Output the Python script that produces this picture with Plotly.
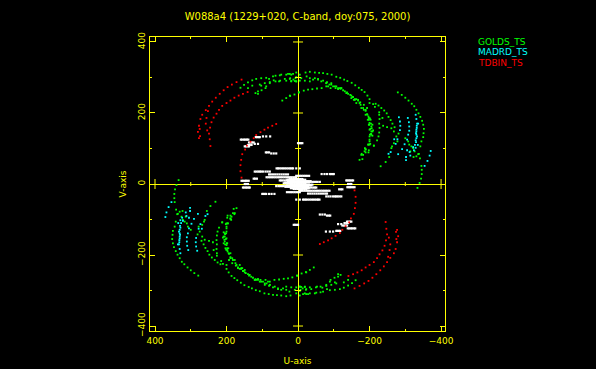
import plotly.graph_objects as go

# (u, v) samples in wavelengths x 1e-3; the conjugate
# half-plane is plotted as (-u, -v), as every baseline gives both.
TITLE = "W088a4 (1229+020, C-band, doy:075, 2000)"
x_major = [400, 200, 0, -200, -400]
y_major = [400, 200, 0, -200, -400]
x_minor = [300, 100, -100, -300]
y_minor = [300, 100, -100, -300]

red_u = [158,172,185,197,208,219,230,240,249,258,268,273,277,280,277,
         141,154,166,178,189,200,212,221,228,236,242,246,249,247,245,
         252,256,258,254,275,274,
         61,72,84,94,105,117,124,133,143,148,156,159,161,161,158]
red_v = [294,287,280,273,264,254,243,232,220,208,195,183,164,147,129,
         259,254,249,243,235,228,220,209,198,187,174,159,142,126,107,
         205,186,170,151,155,135,
         169,164,159,153,146,138,129,119,108,97,84,68,53,36,18]

cyan_u = [-282,-285,-286,-285,-278,-269,-273,-259,-253,-280,-291,
          -307,-310,-311,-311,-308,-305,-298,-305,-312,-302,-302,
          -329,-331,-333,-336,-332,-331,-331,-331,-329,-327,-322,-335,-324,-314,
          -354,-362,-368,-371,
          -332,-331,-330,-333,-330,-329]
cyan_v = [188,176,164,152,126,126,113,90,85,84,98,
          186,174,162,150,139,125,112,95,90,76,67,
          195,183,170,170,158,148,139,129,123,110,104,110,95,80,
          51,65,80,93,
          164,153,143,134,118,102]

green_u = [-279,-290,-300,-309,-318,-325,-331,-337,-342,-347,-350,-352,-351,-350,-345,-342,-338,-341,-345,-346,-346,-344,-340,-334,
           14,33,51,70,89,103,117,128,140,151,161,
           5,19,33,50,63,79,93,107,128,140,
           -2,10,22,33,44,112,119,102,91,112,
           81,68,53,37,23,7,5,28,19,47,63,103,89,79,
           23,5,-21,-33,-47,-59,-70,-82,-94,-107,-118,-129,-138,-150,-160,-170,-178,-186,-194,-200,-210,
           -217,-225,-233,-241,-248,-253,-259,-264,-270,-268,-281,-300,-308,-317,-326,-336,-331,-323,
           -261,-263,-268,-255,-245,-231,
           19,9,-5,-19,-33,-42,-56,-70,-81,-93,-107,-117,-131,-140,-149,-159,-168,-175,-182,-189,-194,-198,-200,-205,-208,-205,-200,-200,-200,-189,-198,-182,-177,-172,-180,
           23,-3,-16,-28,-40,-53,-66,-79,-91,-105,-119,
           -154,-163,-174,-184,-193,-189,-198,-198,-200,-204,-196,-187,-189,-178,
           -227,-228,-227,-225,-221,-212,-200,-215,-227,-236,-238,-249,-261,-227,-228,-275,-278,-311,-314,-322,
           22,13,-5,5,-9,-24,-33,-47,-56,-65,-79,-88,-98,-112,-121,-135,-149,-159,
           -189,-193,-197,-201,-195,-203,-199,-204,-208,-206,-202,-210,-205,-201,-208,-200,-197,-202,-212,-189,-197,-186,
           -79,-84,-93,-103,-112,-121,-126,-137,-146,-152,-156,-168,-172,-177,-184,-163]
green_v = [258,251,243,235,226,219,209,199,189,178,167,155,143,132,120,106,85,72,51,40,28,15,3,-11,
           310,308,306,303,299,298,296,292,286,279,271,
           289,290,291,291,289,287,284,280,277,270,
           258,252,248,242,235,261,256,264,270,254,
           296,292,289,296,296,298,289,310,308,308,305,277,275,284,
           310,314,314,316,314,313,312,310,308,302,299,294,290,285,278,271,265,259,249,239,225,
           226,221,214,207,199,189,180,170,160,148,142,129,120,106,92,84,78,76,
           101,106,115,76,62,50,
           289,290,291,291,289,294,296,291,287,284,275,270,261,254,249,239,235,223,214,206,195,186,172,162,148,139,134,120,111,97,95,82,82,68,70,
           249,258,263,266,267,269,270,275,270,270,268,
           245,239,230,223,214,195,181,167,153,141,111,101,89,85,
           170,158,145,134,123,108,228,217,202,186,164,160,157,195,183,134,120,111,92,101,
           298,294,308,301,298,303,298,298,294,289,284,280,275,270,270,256,242,237,
           209,197,190,185,181,181,167,170,167,157,155,151,148,139,136,125,111,113,108,98,89,92,
           284,275,280,275,267,270,264,258,251,245,237,237,228,214,209,228]

white_rows = {
    44: [60,56,52,47,42,37,32,27,22,18,14,5,-5],
    35: [121,116,111,107,103,98,91,85,79],
    28: [-66,-74,-81,-89,-93,-97,-100],
    27: [81,76,70,64,58,52,46,40,34,28],
    23: [5,0,-5,-10,-15,-20,-25,-31],
    19: [88,83,78,73,68,63,58,53,48,43,38,33,28,23,18,13,8,5],
    15: [124,120,115],
    14: [23,18,13,8,3,-2,-7,-12],
    12: [30,26,22,17,12,7,2,-3,-8,-14,-20],
    10: [51,47,43,38,33,28,23,18,14],
    8: [20,15,10,5,0,-5,-10,-15,-20,-25,-30,-35],
    6: [28,24,20,16,12,8,4,0,-4,-8,-12,-16,-20,-25,-30,-35,-40,-45,-50,-55,-61],
    4: [36,31,26,21,16,11,6,1,-4,-9,-14,-19,-24,-30],
    2: [40,35,30,25,20,15,10,5,0,-5,-10,-15,-20],
    125: [160,156,151,147,143,139],
    132: [118,114,110,107],
    134: [98,89,78],
    117: [137,133,129,124],
    113: [121,112],
    106: [149,145,141,137],
    110: [140,135,130],
    89: [90,86,81],
    86: [75,68,61],
    115: [0,-4,-8,-12],
    9: [158,154,149,146,142,138],
    0: [149,145,140],
    -10: [154,150,146,142,138,135],
}
white_u = [u for row in white_rows.values() for u in row]
white_v = [v for v, row in white_rows.items() for _ in row]

YELLOW = "#ffff00"
FONT = "DejaVu Sans"


def with_conjugate(vals):
    return list(vals) + [-x for x in vals]


fig = go.Figure()
for name, us, vs, color, msize in [
    ("white", white_u, white_v, "#ffffff", 2.2),
    ("GOLDS_TS", green_u, green_v, "#00ff00", 1.8),
    ("MADRD_TS", cyan_u, cyan_v, "#00ffff", 1.8),
    ("TDBIN_TS", red_u, red_v, "#ff0000", 1.8),
]:
    fig.add_trace(go.Scatter(x=with_conjugate(us), y=with_conjugate(vs), mode="markers", name=name,
                             marker=dict(symbol="square", size=msize, color=color, line_width=0),
                             showlegend=False, hoverinfo="skip"))

axis_common = dict(
    showgrid=False, zeroline=True, zerolinecolor=YELLOW, zerolinewidth=1,
    showline=True, linecolor=YELLOW, linewidth=1, mirror="ticks", automargin=False,
    ticks="inside", ticklen=5, tickcolor=YELLOW, tickwidth=1,
    tickfont=dict(family=FONT, size=9, color=YELLOW),
    minor=dict(ticks="inside", ticklen=2, tickcolor=YELLOW, tickwidth=1, dtick=100),
    title_font=dict(family=FONT, size=9, color=YELLOW),
)

shapes = []
line = dict(color=YELLOW, width=1)
for us, half in ((x_major, 5), (x_minor, 2)):
    for u in us:
        if u != 0:
            shapes.append(dict(type="line", xref="x", yref="y", ysizemode="pixel", yanchor=0,
                               x0=u, x1=u, y0=-half, y1=half, line=line, layer="above"))
for vs, half in ((y_major, 5), (y_minor, 3)):
    for v in vs:
        if v != 0:
            shapes.append(dict(type="line", xref="x", yref="y", xsizemode="pixel", xanchor=0,
                               y0=v, y1=v, x0=-half, x1=half, line=line, layer="above"))

annos = [
    dict(text=t, x=(476 - 150) / 295, y=(331 - py) / 294, xref="paper", yref="paper",
         xanchor="left", yanchor="middle", showarrow=False, font=dict(family=FONT, size=9, color=c))
    for t, py, c in [("GOLDS_TS", 42, "#00ff00"), ("MADRD_TS", 52, "#00ffff"), ("TDBIN_TS", 63, "#ff0000")]
]

fig.update_layout(
    width=596, height=369, autosize=False,
    margin=dict(l=150, r=151, t=37, b=38),
    paper_bgcolor="#000000", plot_bgcolor="#000000",
    title=dict(text=TITLE, x=298 / 596, xref="paper", xanchor="center",
               y=1 - 16 / 369, yanchor="middle", font=dict(family=FONT, size=10, color=YELLOW)),
    xaxis=dict(range=[414, -411], tickvals=x_major, ticklabelstandoff=1, title=dict(text="U-axis", standoff=12), **axis_common),
    yaxis=dict(range=[-414, 414], tickvals=y_major, tickangle=-90, title=dict(text="V-axis", standoff=9), **axis_common),
    shapes=shapes, annotations=annos, showlegend=False,
)

fig.write_html("out.html", config=dict(displayModeBar=False),
               post_script="document.body.style.margin='0';document.body.style.background='#000';")
